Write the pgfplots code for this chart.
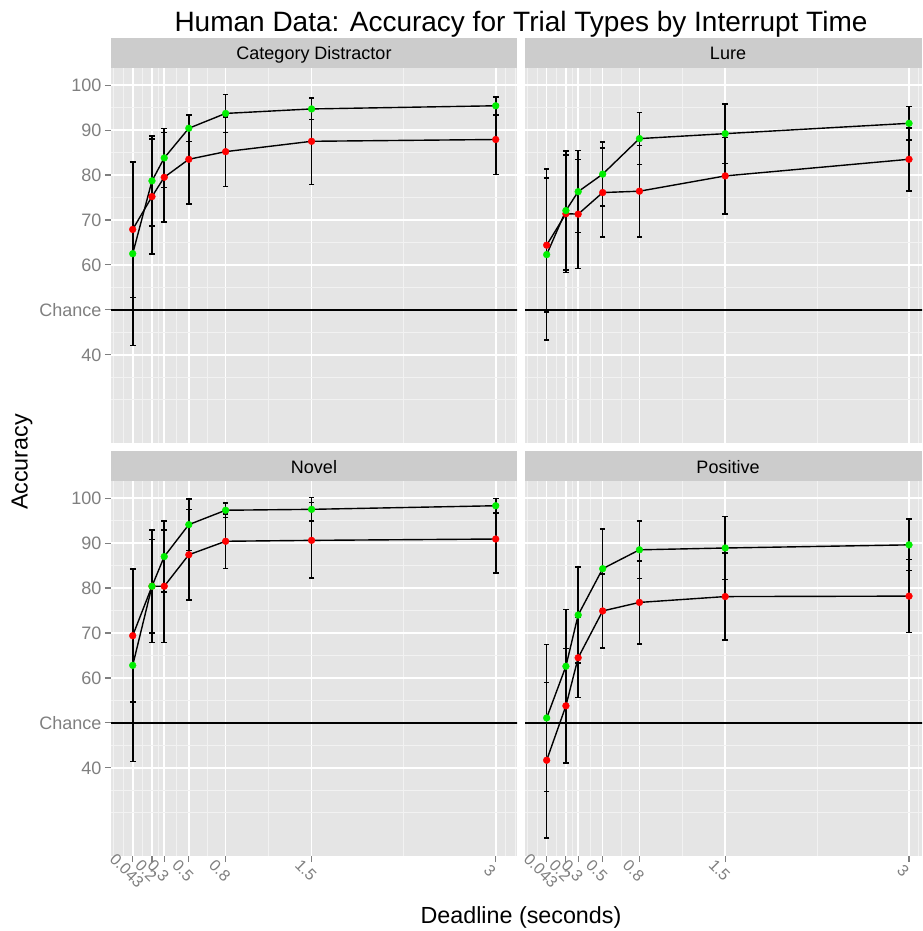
\documentclass[border=0pt]{standalone}
\usepackage{fontspec}
\setmainfont{Liberation Sans}
\usepackage{pgfplots}
\usepackage{pgfplotstable}
\pgfplotsset{compat=1.18}
\definecolor{panelbg}{HTML}{E5E5E5}
\definecolor{stripbg}{HTML}{CCCCCC}
\definecolor{gridminor}{HTML}{F2F2F2}
\definecolor{grey50}{HTML}{7F7F7F}
\definecolor{ggred}{HTML}{FF0000}
\definecolor{gggreen}{HTML}{00EE00}

% x = deadline, r/re = red series mean/error, g/ge = green series mean/error
\pgfplotstableread{
x     r    re   g    ge
0.043 67.9 15.1 62.5 20.4
0.2   75.2 12.8 78.7 10.0
0.3   79.5 10.0 83.8 6.6
0.5   83.5 9.9  90.4 3.0
0.8   85.2 7.7  93.7 4.2
1.5   87.5 9.6  94.7 2.3
3     87.9 7.8  95.4 2.0
}\cattable
\pgfplotstableread{
x     r    re   g    ge
0.043 64.4 14.9 62.3 19.0
0.2   71.4 13.1 72.1 13.2
0.3   71.3 12.1 76.3 9.1
0.5   76.1 9.9  80.2 7.1
0.8   76.4 10.2 88.1 5.8
1.5   79.8 8.5  89.2 6.6
3     83.5 7.0  91.5 3.7
}\luretable
\pgfplotstableread{
x     r    re   g    ge
0.043 69.4 14.7 62.8 21.4
0.2   80.4 10.4 80.4 12.5
0.3   80.4 12.5 87.0 7.9
0.5   87.4 10.1 94.1 5.7
0.8   90.4 6.1  97.3 1.6
1.5   90.6 8.4  97.5 2.6
3     90.9 7.6  98.3 1.6
}\noveltable
\pgfplotstableread{
x     r    re   g    ge
0.043 41.7 17.3 51.1 16.3
0.2   53.8 12.7 62.6 12.6
0.3   64.5 8.9  74.0 10.7
0.5   74.9 8.2  84.3 8.8
0.8   76.8 9.2  88.5 6.4
1.5   78.1 9.7  88.9 7.0
3     78.2 8.1  89.6 5.7
}\postable

\newcommand{\tickfont}{\fontsize{18}{21}\selectfont}
\newcommand{\xtickfont}{\fontsize{16}{19}\selectfont}

\pgfplotsset{
  panel/.style={
    scale only axis, height=375pt,
    ymin=20.4, ymax=103.8,
    axis background/.style={fill=panelbg},
    axis line style={draw=none},
    xtick={0.043,0.2,0.3,0.5,0.8,1.5,3},
    xticklabels={0.043,0.2,0.3,0.5,0.8,1.5,3},
    minor xtick={-0.114,-0.0355,0.1215,0.25,0.4,0.65,1.15,2.25,3.0785,3.157},
    ytick={40,50,60,70,80,90,100},
    minor ytick={30,35,45,55,65,75,85,95},
    grid=both,
    major grid style={white, line width=1.6pt},
    minor grid style={gridminor, line width=0.8pt},
    tick align=outside, tick pos=left,
    major tick length=6pt, minor tick length=0pt,
    tick style={grey50, line width=1.1pt},
    yticklabel style={font=\tickfont, text=grey50},
    xticklabel style={font=\xtickfont, text=grey50, rotate=-45, anchor=north, xshift=2pt, yshift=-1pt},
    /pgf/number format/assume math mode=true,
  },
  toprow/.style={xticklabels={}, xtick style={draw=none}},
  rightcol/.style={yticklabels={}, ytick style={draw=none}},
  leftcol/.style={yticklabels={40,Chance,60,70,80,90,100}},
  leftx/.style={width=406pt, xmin=-0.1338, xmax=3.1735},
  rightx/.style={width=397pt, xmin=-0.1338, xmax=3.106},
  serie/.style={black, line width=1.4pt, mark=none,
    error bars/.cd, y dir=both, y explicit,
    error bar style={black, line width=1.6pt},
    error mark options={black, rotate=90, mark size=2.8pt, line width=1.5pt}},
  pts/.style={only marks, mark=*, mark size=3.4pt},
}

\newcommand{\panelcontent}[1]{%
  \addplot[black, line width=1.3pt] coordinates {(-0.5,50) (3.5,50)};
  \addplot[serie] table[x=x, y=r, y error=re] {#1};
  \addplot[serie] table[x=x, y=g, y error=ge] {#1};
  \addplot[pts, ggred] table[x=x, y=r] {#1};
  \addplot[pts, gggreen] table[x=x, y=g] {#1};
}

\begin{document}
\begin{tikzpicture}
\path[use as bounding box] (0pt,0pt) rectangle (922pt,-931pt);

% title
\node[anchor=base, font=\fontsize{28}{32}\selectfont] at (521pt,-31.5pt) {Human Data: Accuracy for Trial Types by Interrupt Time};

% strips
\fill[stripbg] (111pt,-38pt) rectangle (517pt,-68pt);
\fill[stripbg] (525pt,-38pt) rectangle (922pt,-68pt);
\fill[stripbg] (111pt,-451pt) rectangle (517pt,-481pt);
\fill[stripbg] (525pt,-451pt) rectangle (922pt,-481pt);
\node[anchor=base, font=\tickfont] at (314pt,-60pt) {Category Distractor};
\node[anchor=base, font=\tickfont] at (728pt,-60pt) {Lure};
\node[anchor=base, font=\tickfont] at (314pt,-473pt) {Novel};
\node[anchor=base, font=\tickfont] at (728pt,-473pt) {Positive};

\begin{axis}[panel, leftx, toprow, leftcol, at={(111pt,-443pt)}, anchor=south west]
\panelcontent{\cattable}
\end{axis}
\begin{axis}[panel, rightx, toprow, rightcol, at={(525pt,-443pt)}, anchor=south west]
\panelcontent{\luretable}
\end{axis}
\begin{axis}[panel, leftx, leftcol, at={(111pt,-856pt)}, anchor=south west]
\panelcontent{\noveltable}
\end{axis}
\begin{axis}[panel, rightx, rightcol, at={(525pt,-856pt)}, anchor=south west]
\panelcontent{\postable}
\end{axis}

% axis titles
\node[rotate=90, font=\fontsize{23.3}{27}\selectfont] at (22pt,-462pt) {Accuracy};
\node[anchor=base, font=\fontsize{23.3}{27}\selectfont] at (521pt,-923pt) {Deadline (seconds)};
\end{tikzpicture}
\end{document}
